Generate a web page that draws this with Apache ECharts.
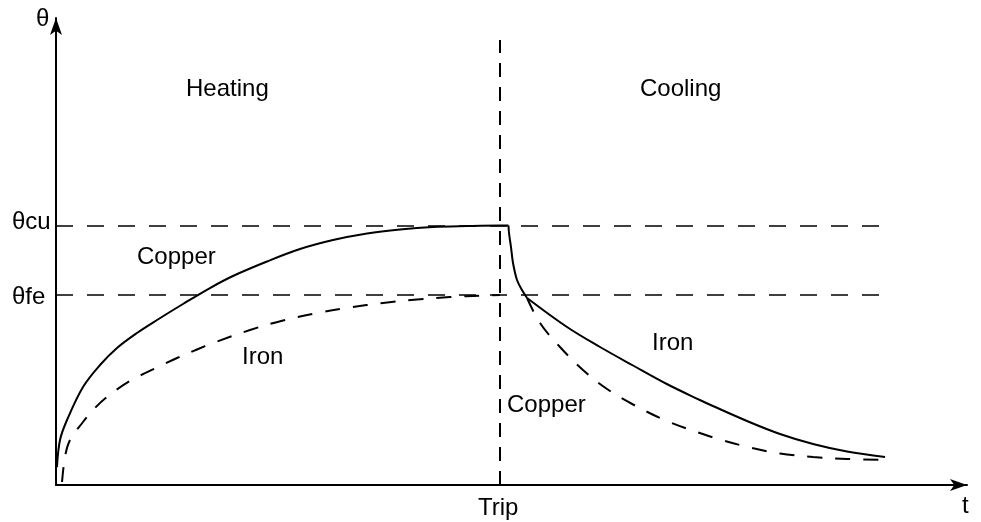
<!DOCTYPE html>
<html>
<head>
<meta charset="utf-8">
<script src="https://cdn.jsdelivr.net/npm/echarts@6.0.0/dist/echarts.min.js"></script>
<style>
  html, body { margin: 0; padding: 0; background: #fff; }
  #chart { width: 981px; height: 522px; }
</style>
</head>
<body>
<div id="chart"></div>
<script>
// Axis extents (arbitrary time / temperature units)
const tMax = 102.6;
const thetaMax = 180;
const tripTime = 50;
const thetaCu = 100;
const thetaFe = 73.2;
const guideEnd = 93.9;
const tripLineTop = 171.5;

// Copper, heating up to the trip, then held briefly at θcu (solid)
const copperHeatT = [0.11, 0.45, 1.24, 3.04, 4.96, 6.87, 9.12, 11.38, 14.3, 17.34, 19.93, 23.76, 27.48, 31.2, 35.03, 38.74, 42.46, 46.29, 50.0, 50.96];
const copperHeatV = [6.9, 17.35, 25.05, 37.77, 46.25, 52.81, 58.59, 63.6, 69.77, 75.93, 80.56, 86.15, 90.96, 94.43, 96.94, 98.48, 99.44, 99.8, 100, 100];

// Copper, fast drop right after the trip (solid)
const copperDropT = [50.96, 51.02, 51.24, 51.47, 51.92, 52.48, 53.05];
const copperDropV = [100, 97.13, 91.74, 85.57, 79.02, 75.16, 72.08];

// Copper, slow cooling (dashed)
const copperCoolT = [53.05, 54.51, 56.76, 59.35, 62.06, 64.99, 68.79, 72.51, 74.76, 78.16, 81.54, 85.26, 89.09, 93.37];
const copperCoolV = [72.08, 62.44, 53.19, 44.33, 37.0, 31.03, 24.67, 20.04, 17.54, 14.45, 12.14, 10.79, 10.02, 9.64];

// Iron, heating up to the trip (dashed)
const ironHeatT = [0.68, 1.01, 1.58, 3.04, 4.17, 5.74, 8.33, 11.38, 13.63, 15.88, 17.68, 21.85, 25.57, 29.4, 33.11, 36.83, 40.66, 44.37, 48.09, 50.0];
const ironHeatV = [1.16, 10.79, 17.35, 24.28, 28.91, 33.92, 40.09, 45.29, 48.95, 52.23, 54.73, 59.74, 63.41, 66.3, 68.42, 70.15, 71.5, 72.46, 73.0, 73.2];

// Iron, cooling (solid)
const ironCoolT = [53.05, 57.55, 61.27, 64.99, 68.79, 72.51, 73.98, 77.82, 81.54, 85.26, 89.09, 93.37];
const ironCoolV = [72.08, 60.9, 53.19, 46.06, 38.93, 32.76, 30.45, 24.67, 19.66, 15.8, 12.91, 10.79];

const zip = (t, v) => t.map((x, i) => [x, v[i]]);

const FONT = '"Liberation Sans", Arial, sans-serif';
const INK = '#000';
const curveDash = [15, 13];

function text(str, x, y) {
  return {
    type: 'text', x: x, y: y, silent: true,
    style: { text: str, fill: INK, font: '24px ' + FONT, align: 'left', verticalAlign: 'middle' }
  };
}

function curve(name, data, dashed) {
  return {
    name: name, type: 'line', data: data, smooth: 0.35,
    showSymbol: false, silent: true,
    lineStyle: { color: INK, width: 2, type: dashed ? curveDash : 'solid', cap: 'butt' }
  };
}

const chart = echarts.init(document.getElementById('chart'), null, { renderer: 'canvas' });

chart.setOption({
  animation: false,
  backgroundColor: '#fff',
  grid: { left: 56, right: 14, top: 18, bottom: 37 },
  xAxis: {
    type: 'value', min: 0, max: tMax,
    axisLine: { lineStyle: { color: INK, width: 2 }, symbol: ['none', 'arrow'], symbolSize: [9, 17] },
    axisTick: { show: false }, axisLabel: { show: false }, splitLine: { show: false }
  },
  yAxis: {
    type: 'value', min: 0, max: thetaMax,
    axisLine: { lineStyle: { color: INK, width: 2 }, symbol: ['none', 'arrow'], symbolSize: [9, 17] },
    axisTick: { show: false }, axisLabel: { show: false }, splitLine: { show: false }
  },
  series: [
    Object.assign(curve('Iron heating', zip(ironHeatT, ironHeatV), true), {
      markLine: {
        silent: true, symbol: 'none', label: { show: false },
        lineStyle: { color: INK, width: 1.5, type: [17, 14] },
        data: [
          [{ coord: [0, thetaCu] }, { coord: [guideEnd, thetaCu] }],
          [{ coord: [0, thetaFe] }, { coord: [guideEnd, thetaFe] }],
          [{ coord: [tripTime, 0], lineStyle: { type: [14, 10], width: 2 } }, { coord: [tripTime, tripLineTop] }]
        ]
      }
    }),
    curve('Copper heating', zip(copperHeatT, copperHeatV), false),
    curve('Copper drop', zip(copperDropT, copperDropV), false),
    curve('Copper cooling', zip(copperCoolT, copperCoolV), true),
    curve('Iron cooling', zip(ironCoolT, ironCoolV), false)
  ],
  graphic: [
    text('θ', 36, 19),
    text('t', 962, 506),
    text('Trip', 478, 508),
    text('θcu', 12, 222),
    text('θfe', 12, 297),
    text('Heating', 186, 89),
    text('Cooling', 640, 89),
    text('Copper', 137, 257),
    text('Iron', 242, 357),
    text('Iron', 652, 343),
    text('Copper', 507, 405)
  ]
});
</script>
</body>
</html>
